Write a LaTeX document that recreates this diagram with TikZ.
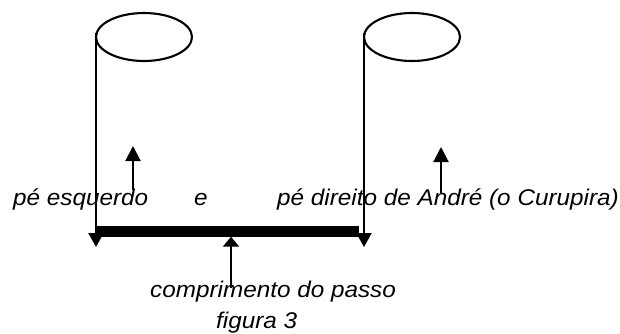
\documentclass[tikz,border=0pt]{standalone}
\usepackage{fontspec}
\newfontfamily\lab[FakeStretch=1.07]{Liberation Sans}
\usetikzlibrary{shapes.geometric,arrows.meta}
\begin{document}
\begin{tikzpicture}[x=1pt,y=-1pt,
  foot/.style={draw,ellipse,line width=2.1pt,minimum width=96pt,minimum height=48pt,inner sep=0pt},
  leg/.style={line width=2.1pt,-{Triangle[length=14pt,width=15pt]}},
  pointer/.style={line width=2.1pt,-{Triangle[length=15pt,width=15pt]}},
  lbl/.style={font=\lab\itshape\fontsize{22.7pt}{26pt}\selectfont,inner sep=0pt,anchor=base west,text=black}]
\useasboundingbox (0,0) rectangle (620,333);
% feet
\node[foot] (lf) at (144,37) {};
\node[foot] (rf) at (412,37) {};
% step bar
\node[fill=black,inner sep=0pt,minimum width=263pt,minimum height=11pt,anchor=west] (bar) at (96,231) {};
% legs
\coordinate (ltop) at (96,33);
\coordinate (ltip) at (96,247);
\coordinate (rtop) at (364,33);
\coordinate (rtip) at (364,247);
\draw[leg] (ltop) -- (ltip);
\draw[leg] (rtop) -- (rtip);
% labels
\node[lbl] (pe) at (13,205) {pé esquerdo};
\node[lbl] (e) at (194,205) {e};
\node[lbl] (pd) at (277,205) {pé direito de André (o Curupira)};
\node[lbl] (comp) at (150,297) {comprimento do passo};
\node[lbl] (fig) at (216,328) {figura 3};
% small pointers
\coordinate (la) at (133,190);
\coordinate (lb) at (133,146);
\coordinate (ra) at (441,193);
\coordinate (rb) at (441,147);
\draw[pointer] (la) -- (lb);
\draw[pointer] (ra) -- (rb);
% step pointer
\coordinate (ma) at (231,288);
\draw[line width=2.1pt,-{Triangle[length=10pt,width=16pt]}] (ma) -- (ma |- bar.south);
\end{tikzpicture}
\end{document}
